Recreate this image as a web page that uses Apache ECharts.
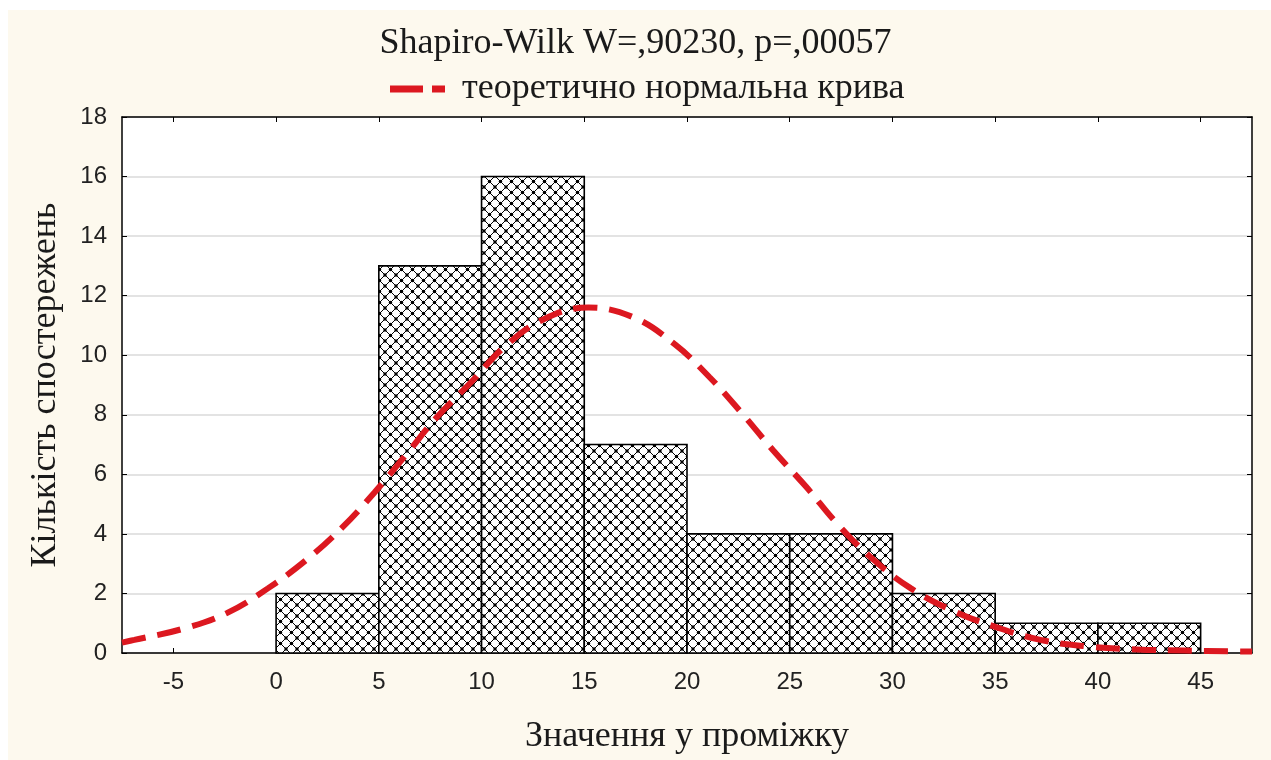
<!DOCTYPE html>
<html>
<head>
<meta charset="utf-8">
<script src="https://cdn.jsdelivr.net/npm/echarts@6/dist/echarts.min.js"></script>
<style>
html,body{margin:0;padding:0;background:#ffffff;}
#chart{width:1271px;height:760px;}
</style>
</head>
<body>
<div id="chart"></div>
<script>
// Histogram bins [from, to] and counts
const binStarts = [0, 5, 10, 15, 20, 25, 30, 35, 40];
const binEnds   = [5, 10, 15, 20, 25, 30, 35, 40, 45];
const counts    = [2, 13, 16, 7, 4, 4, 2, 1, 1];

// Theoretical normal curve: x values and heights
const curveX = [-7.5, -6.9, -4.6, -2.4, -0.4, 1.5, 3.2, 4.8, 6.4, 7.8, 9.5, 11.1, 13.0, 15.2, 17.4, 19.4, 21.1, 22.7, 24.2, 25.8, 27.3, 29.0, 30.9, 33.0, 35.0, 37.2, 39.5, 41.9, 44.2, 47.5];
const curveY = [0.35, 0.44, 0.8, 1.34, 2.17, 3.14, 4.2, 5.4, 6.72, 7.9, 9.1, 10.27, 11.2, 11.6, 11.27, 10.37, 9.26, 8.03, 6.8, 5.58, 4.35, 3.18, 2.17, 1.4, 0.88, 0.44, 0.22, 0.12, 0.08, 0.05];

const xTickLabels = [-5, 0, 5, 10, 15, 20, 25, 30, 35, 40, 45];

const titleText = 'Shapiro-Wilk W=,90230, p=,00057';
const legendText = 'теоретично нормальна крива';
const xName = 'Значення у проміжку';
const yName = 'Кількість спостережень';

// cross-hatch pattern tile
function makePattern() {
  const s = 11;
  const c = document.createElement('canvas');
  c.width = s; c.height = s;
  const g = c.getContext('2d');
  g.fillStyle = '#ffffff';
  g.fillRect(0, 0, s, s);
  g.strokeStyle = '#000000';
  g.lineWidth = 1.0;
  g.beginPath();
  g.moveTo(-1, -1); g.lineTo(s + 1, s + 1);
  g.moveTo(s + 1, -1); g.lineTo(-1, s + 1);
  g.stroke();
  g.fillStyle = '#000000';
  const pts = [[0, 0], [s, 0], [0, s], [s, s], [s / 2, s / 2]];
  pts.forEach(p => { g.beginPath(); g.arc(p[0], p[1], 1.7, 0, Math.PI * 2); g.fill(); });
  return c;
}
const patternCanvas = makePattern();

const barData = binStarts.map((b, i) => [b, binEnds[i], counts[i]]);
const curveData = curveX.map((x, i) => [x, curveY[i]]);

const chart = echarts.init(document.getElementById('chart'), null, { renderer: 'canvas' });

const serif = '"Liberation Serif", "DejaVu Serif", serif';
const sans = '"Liberation Sans", Arial, sans-serif';
const red = '#dc1820';

const option = {
  backgroundColor: '#ffffff',
  animation: false,
  graphic: [{
    type: 'rect', left: 8, top: 10, z: -10,
    shape: { width: 1263, height: 750 },
    style: { fill: '#fdf9ee' }
  }],
  title: {
    text: titleText,
    left: 'center',
    top: 21,
    textStyle: { fontFamily: serif, fontWeight: 'normal', fontSize: 36, color: '#1a1a1a' }
  },
  legend: {
    top: 66,
    left: 385,
    icon: 'path://M0,0 H33 V7 H0 Z M42,0 H55 V7 H42 Z',
    itemWidth: 55,
    itemHeight: 7,
    itemGap: 10,
    textStyle: { fontFamily: serif, fontSize: 36, color: '#1a1a1a', padding: [0, 0, 0, 12] },
    data: [{ name: legendText, itemStyle: { color: red } }]
  },
  grid: { left: 122, right: 19, top: 117, bottom: 105, show: true, backgroundColor: '#ffffff', borderWidth: 0 },
  xAxis: [{
    type: 'value',
    min: -7.5, max: 47.5,
    name: xName,
    nameLocation: 'middle',
    nameGap: 66,
    nameTextStyle: { fontFamily: serif, fontSize: 36, color: '#1a1a1a' },
    axisLine: { onZero: false, lineStyle: { color: '#000', width: 1.5 } },
    axisTick: { show: true, inside: true, length: 5, customValues: xTickLabels, lineStyle: { color: '#000' } },
    axisLabel: { customValues: xTickLabels, fontFamily: sans, fontSize: 24, color: '#222', margin: 17 },
    splitLine: { show: false }
  }, {
    type: 'value',
    position: 'top',
    min: -7.5, max: 47.5,
    axisLine: { show: true, onZero: false, lineStyle: { color: '#000', width: 1.5 } },
    axisTick: { show: true, inside: true, length: 5, customValues: xTickLabels, lineStyle: { color: '#000' } },
    axisLabel: { show: false },
    splitLine: { show: false }
  }],
  yAxis: [{
    type: 'value',
    min: 0, max: 18, interval: 2,
    name: yName,
    nameLocation: 'middle',
    nameGap: 58,
    nameTextStyle: { fontFamily: serif, fontSize: 36, color: '#1a1a1a' },
    axisLine: { show: true, onZero: false, lineStyle: { color: '#000', width: 1.5 } },
    axisTick: { show: true, inside: true, length: 5, lineStyle: { color: '#000' } },
    axisLabel: { fontFamily: sans, fontSize: 24, color: '#222', margin: 15 },
    splitLine: { show: true, lineStyle: { color: '#dadada', width: 1.5 } }
  }, {
    type: 'value',
    position: 'right',
    min: 0, max: 18, interval: 2,
    axisLine: { show: true, onZero: false, lineStyle: { color: '#000', width: 1.5 } },
    axisTick: { show: true, inside: true, length: 5, lineStyle: { color: '#000' } },
    axisLabel: { show: false },
    splitLine: { show: false }
  }],
  series: [{
    type: 'custom',
    name: 'hist',
    xAxisIndex: 0, yAxisIndex: 0,
    data: barData,
    encode: { x: [0, 1], y: 2 },
    z: 2,
    renderItem: function (params, api) {
      const p0 = api.coord([api.value(0), api.value(2)]);
      const p1 = api.coord([api.value(1), 0]);
      return {
        type: 'rect',
        shape: { x: p0[0], y: p0[1], width: p1[0] - p0[0], height: p1[1] - p0[1] },
        style: { fill: { image: patternCanvas, repeat: 'repeat' }, stroke: '#000', lineWidth: 1.6 }
      };
    }
  }, {
    type: 'line',
    name: legendText,
    xAxisIndex: 0, yAxisIndex: 0,
    data: curveData,
    smooth: 0.4,
    showSymbol: false,
    symbol: 'none',
    z: 5,
    clip: true,
    lineStyle: { color: red, width: 6, type: [24, 12] },
    itemStyle: { color: red }
  }]
};
chart.setOption(option);
</script>
</body>
</html>
